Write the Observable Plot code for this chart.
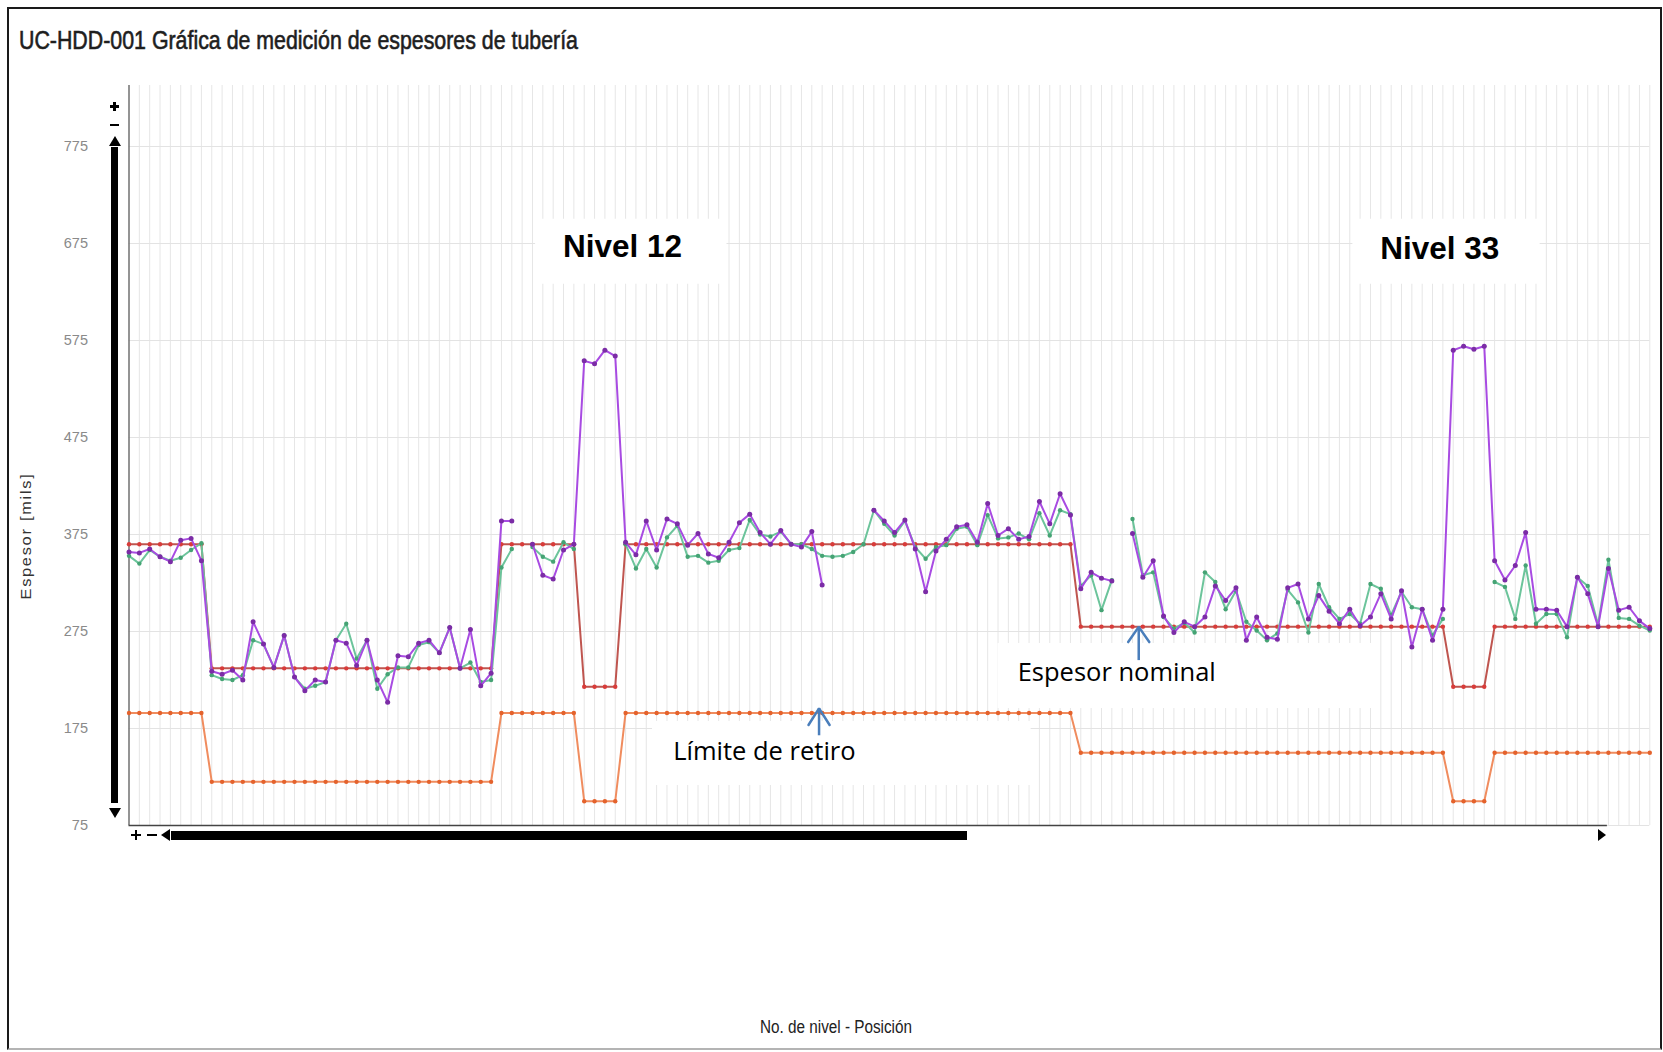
<!DOCTYPE html>
<html><head><meta charset="utf-8">
<script src="https://cdn.jsdelivr.net/npm/d3@7"></script>
<script src="https://cdn.jsdelivr.net/npm/@observablehq/plot@0.6"></script>
<style>
html,body{margin:0;padding:0;background:#fff;}
#wrap{position:relative;width:1663px;height:1052px;overflow:hidden;background:#fff;font-family:"Liberation Sans",Arial,sans-serif;}
#chart{position:absolute;left:0;top:0;}
.abs{position:absolute;white-space:nowrap;line-height:1;}
.blk{position:absolute;background:#000;}
#frame{position:absolute;left:7px;top:7px;width:1655px;height:1043px;border:2px solid #1a1a1a;border-bottom-color:#b4b4b4;box-sizing:border-box;pointer-events:none;}
.tri{position:absolute;width:0;height:0;}
</style></head><body>
<div id="wrap">
  <div id="chart"></div>
  <div id="frame"></div>
  <div id="title" class="abs" style="font-size:25px;color:#1e1e1e;-webkit-text-stroke:0.6px #1e1e1e;">UC-HDD-001 Gráfica de medición de espesores de tubería</div>
  <div id="ylab" class="abs" style="font-size:14px;color:#333;letter-spacing:1.5px;">Espesor [mils]</div>
  <div id="xlab" class="abs" style="font-size:18px;color:#222;">No. de nivel - Posición</div>
  <!-- vertical scroll control -->
  <div class="blk" style="left:110px;top:105px;width:9px;height:2.6px;"></div>
  <div class="blk" style="left:113.2px;top:101.5px;width:2.6px;height:9.5px;"></div>
  <div class="blk" style="left:110px;top:123.5px;width:9px;height:2.6px;"></div>
  <div class="tri" style="left:108.5px;top:136px;border-left:6px solid transparent;border-right:6px solid transparent;border-bottom:10px solid #000;"></div>
  <div class="blk" style="left:110.8px;top:147px;width:7.5px;height:656px;"></div>
  <div class="tri" style="left:108.5px;top:808px;border-left:6px solid transparent;border-right:6px solid transparent;border-top:10px solid #000;"></div>
  <!-- horizontal scroll control -->
  <div class="blk" style="left:131px;top:833.7px;width:9.5px;height:2.6px;"></div>
  <div class="blk" style="left:134.5px;top:830.2px;width:2.6px;height:9.5px;"></div>
  <div class="blk" style="left:147px;top:833.7px;width:9.5px;height:2.6px;"></div>
  <div class="tri" style="left:160.5px;top:829px;border-top:6px solid transparent;border-bottom:6px solid transparent;border-right:9px solid #000;"></div>
  <div class="blk" style="left:171px;top:830.5px;width:796px;height:9px;"></div>
  <div class="tri" style="left:1598px;top:829px;border-top:6px solid transparent;border-bottom:6px solid transparent;border-left:8px solid #000;"></div>
</div>
<script>
// ---- data ----
const yTicks = [75, 175, 275, 375, 475, 575, 675, 775];

// Espesor nominal (mils) per measurement position (148 positions)
const nominal = [
  // 0-7
  365,365,365,365,365,365,365,365,
  // 8-35
  237,237,237,237,237,237,237,237,237,237,
  237,237,237,237,237,237,237,237,237,237,
  237,237,237,237,237,237,237,237,
  // 36-43
  365,365,365,365,365,365,365,365,
  // 44-47 (Nivel 12)
  218,218,218,218,
  // 48-91
  365,365,365,365,365,365,365,365,365,365,
  365,365,365,365,365,365,365,365,365,365,
  365,365,365,365,365,365,365,365,365,365,
  365,365,365,365,365,365,365,365,365,365,
  365,365,365,365,
  // 92-127
  280,280,280,280,280,280,280,280,280,280,
  280,280,280,280,280,280,280,280,280,280,
  280,280,280,280,280,280,280,280,280,280,
  280,280,280,280,280,280,
  // 128-131 (Nivel 33)
  218,218,218,218,
  // 132-147
  280,280,280,280,280,280,280,280,280,280,
  280,280,280,280,280,280
];

// Límite de retiro (mils)
const limite = [
  // 0-7
  191,191,191,191,191,191,191,191,
  // 8-35
  120,120,120,120,120,120,120,120,120,120,
  120,120,120,120,120,120,120,120,120,120,
  120,120,120,120,120,120,120,120,
  // 36-43
  191,191,191,191,191,191,191,191,
  // 44-47
  100,100,100,100,
  // 48-91
  191,191,191,191,191,191,191,191,191,191,
  191,191,191,191,191,191,191,191,191,191,
  191,191,191,191,191,191,191,191,191,191,
  191,191,191,191,191,191,191,191,191,191,
  191,191,191,191,
  // 92-127
  150,150,150,150,150,150,150,150,150,150,
  150,150,150,150,150,150,150,150,150,150,
  150,150,150,150,150,150,150,150,150,150,
  150,150,150,150,150,150,
  // 128-131
  100,100,100,100,
  // 132-147
  150,150,150,150,150,150,150,150,150,150,
  150,150,150,150,150,150
];

// Medición 1 (purple)
const medicion1 = [
  357,356,360,352,347,369,371,348,
  234,231,235,225,285,262,238,271,228,214,
  225,223,266,263,240,266,225,202,250,249,
  263,266,253,279,237,277,219,232,
  389,389,null,365,333,329,359,365,
  554,551,565,559,
  367,354,389,359,391,386,364,376,355,351,
  367,387,396,377,365,379,365,362,378,323,
  null,null,null,null,400,389,377,390,360,316,
  358,370,383,385,367,407,374,381,370,373,
  409,386,417,395,
  319,336,330,327,null,376,331,348,291,274,
  285,280,290,322,307,320,266,290,269,267,
  320,324,288,312,296,283,298,281,290,314,
  288,317,259,298,266,298,
  565,569,566,569,
  348,328,343,377,298,298,297,280,331,314,
  280,340,297,300,286,278
];

// Medición 2 (green)
const medicion2 = [
  353,345,359,352,348,351,359,366,
  230,226,225,230,266,262,238,271,228,216,
  219,223,266,283,247,266,216,231,238,238,
  261,264,253,279,237,243,223,225,
  341,360,null,362,352,347,367,360,
  null,null,null,null,
  365,340,360,341,372,384,352,353,346,348,
  359,361,390,375,373,378,365,365,360,353,
  352,353,357,365,400,386,374,389,362,350,
  362,364,381,383,364,395,371,372,376,370,
  397,374,400,396,
  322,333,297,328,null,391,333,336,290,278,
  284,274,336,326,298,317,285,276,266,273,
  318,305,274,324,300,288,293,283,324,319,
  292,316,300,298,271,288,
  null,null,null,null,
  326,321,288,343,283,293,293,269,331,322,
  282,349,289,288,281,276
];

// annotation labels
const nivelLabels = ["Nivel 12", "Nivel 33"];
const notaNominal = "Espesor nominal";
const notaLimite = "Límite de retiro";

// ---- build table ----
const rows = nominal.map((n, i) => ({i, nominal: n, limite: limite[i], m1: medicion1[i], m2: medicion2[i]}));

// annotation placement (in chart units: position index / mils)
const boxes = [
  {x1: 39.3, x2: 57.8, y1: 633, y2: 700},
  {x1: 118.3, x2: 136.4, y1: 633, y2: 700},
  {x1: 84.0, x2: 120.3, y1: 195.6, y2: 262.6},
  {x1: 50.6, x2: 87.2, y1: 116.2, y2: 182.2}
];
const nivelPos = [{x: 47.7, y: 671}, {x: 126.7, y: 669}];
const notaPos = [{t: notaNominal, x: 85.9, y: 232.7}, {t: notaLimite, x: 52.6, y: 151.3}];
// arrow shafts and open heads (head half-width ≈ 1 position, height ≈ 16 mils)
const arrowShafts = [{x: 66.7, y1: 167.5, y2: 195.6}, {x: 97.6, y1: 245, y2: 279.6}];
const arrowHeads = [
  {a: 0, x: 65.68, y: 178.6}, {a: 0, x: 66.7, y: 195.8}, {a: 0, x: 67.72, y: 178.6},
  {a: 1, x: 96.58, y: 264.1}, {a: 1, x: 97.6, y: 279.8}, {a: 1, x: 98.62, y: 264.1}
];

const chart = Plot.plot({
  width: 1663,
  height: 1052,
  marginLeft: 128.5,
  marginRight: 13.7,
  marginTop: 85,
  marginBottom: 227,
  style: {fontFamily: "Liberation Sans, Arial, sans-serif", background: "transparent"},
  x: {domain: [0, 147], axis: null},
  y: {domain: [75, 775], range: [825, 146]},
  marks: [
    Plot.ruleX(rows, {x: "i", stroke: "#e6e6e6", strokeWidth: 1}),
    Plot.ruleY(yTicks, {stroke: "#e3e3e3", strokeWidth: 1}),
    Plot.rect(boxes, {x1: "x1", x2: "x2", y1: "y1", y2: "y2", fill: "#ffffff"}),
    Plot.ruleX([0], {stroke: "#555", strokeWidth: 1.2}),
    Plot.ruleY([75], {x1: 0, x2: 142.9, stroke: "#444", strokeWidth: 1.5}),
    Plot.axisY(yTicks, {tickSize: 0, tickPadding: 41, fontSize: 14.5, color: "#8a8a8a", label: null}),
    // límite de retiro
    Plot.line(rows, {x: "i", y: "limite", stroke: "#f08c5e", strokeWidth: 2}),
    Plot.dot(rows, {x: "i", y: "limite", r: 2.2, fill: "#e4622c"}),
    // espesor nominal
    Plot.line(rows, {x: "i", y: "nominal", stroke: "#bf554f", strokeWidth: 2}),
    Plot.dot(rows, {x: "i", y: "nominal", r: 2.2, fill: "#d83c3a"}),
    // medición 2
    Plot.line(rows, {x: "i", y: "m2", stroke: "#6cc49b", strokeWidth: 2}),
    Plot.dot(rows, {filter: d => d.m2 != null, x: "i", y: "m2", r: 2.2, fill: "#45a374"}),
    // medición 1
    Plot.line(rows, {x: "i", y: "m1", stroke: "#a84be2", strokeWidth: 2}),
    Plot.dot(rows, {filter: d => d.m1 != null, x: "i", y: "m1", r: 2.5, fill: "#7b2ca6"}),
    // annotations
    Plot.text(nivelPos, {x: "x", y: "y", text: (d, k) => nivelLabels[k], fontSize: 31.5, fontWeight: "bold", fill: "#000", textAnchor: "middle", lineAnchor: "middle"}),
    Plot.text(notaPos, {x: "x", y: "y", text: "t", fontSize: 25.5, fontFamily: "Open Sans, sans-serif", fill: "#000", textAnchor: "start", lineAnchor: "middle"}),
    Plot.ruleX(arrowShafts, {x: "x", y1: "y1", y2: "y2", stroke: "#4a7ebb", strokeWidth: 2.5}),
    Plot.line(arrowHeads, {x: "x", y: "y", z: "a", stroke: "#4a7ebb", strokeWidth: 2.5, strokeLinejoin: "miter"})
  ]
});
document.getElementById("chart").appendChild(chart);

// ---- place & fit the HTML texts ----
function fitH(id, left, right, cy) {
  const el = document.getElementById(id);
  el.style.left = left + "px";
  el.style.top = "0px";
  const r = el.getBoundingClientRect();
  el.style.transformOrigin = "0 50%";
  el.style.transform = `scaleX(${(right - left) / r.width})`;
  el.style.top = (cy - r.height / 2) + "px";
}
fitH("title", 19, 578, 40);
fitH("xlab", 760, 912, 1027);
(function () {
  const el = document.getElementById("ylab");
  const r = el.getBoundingClientRect();
  const cx = 26.5, cy = 536, len = 127;
  el.style.left = (cx - r.width / 2) + "px";
  el.style.top = (cy - r.height / 2) + "px";
  el.style.transformOrigin = "50% 50%";
  el.style.transform = `rotate(-90deg) scaleX(${len / r.width})`;
})();
</script>
</body></html>
